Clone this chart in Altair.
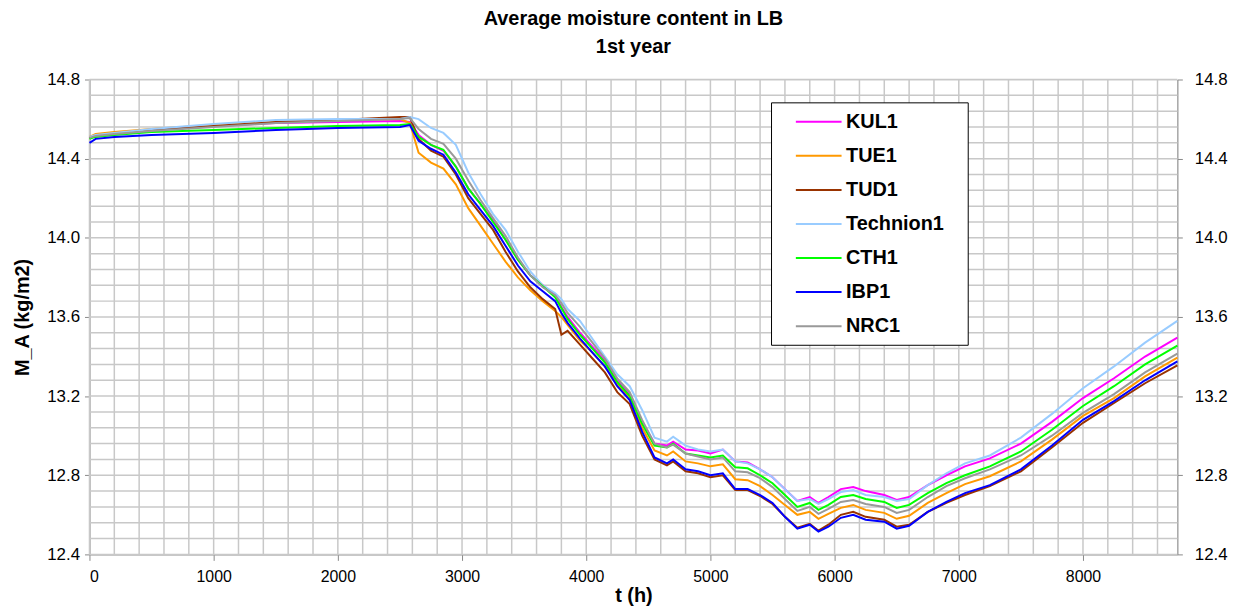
import altair as alt
import pandas as pd

FONT = "Liberation Sans"

t_hours = [0, 50, 200, 500, 1000, 1500, 2000, 2500, 2580, 2650, 2750, 2850, 2950,
           3050, 3150, 3250, 3350, 3450, 3550, 3650, 3750, 3800, 3850, 3950, 4050,
           4150, 4250, 4350, 4450, 4550, 4650, 4700, 4800, 4900, 5000, 5100, 5200,
           5300, 5400, 5500, 5600, 5700, 5800, 5870, 5950, 6050, 6150, 6250, 6400,
           6500, 6600, 6750, 6900, 7050, 7250, 7500, 7750, 8000, 8250, 8500, 8760]

kul1 = [14.505, 14.52, 14.53, 14.545, 14.565, 14.58, 14.585, 14.59, 14.585, 14.52, 14.47, 14.44, 14.36,
        14.25, 14.17, 14.09, 13.99, 13.89, 13.81, 13.76, 13.71, 13.65, 13.60, 13.52, 13.45,
        13.38, 13.28, 13.21, 13.07, 12.96, 12.95, 12.97, 12.93, 12.925, 12.91, 12.93, 12.87,
        12.865, 12.83, 12.79, 12.73, 12.67, 12.69, 12.66, 12.69, 12.73, 12.74, 12.72, 12.70,
        12.675, 12.69, 12.75, 12.80, 12.845, 12.885, 12.96, 13.07, 13.19, 13.29, 13.40, 13.495]

tue1 = [14.51, 14.525, 14.535, 14.55, 14.57, 14.585, 14.595, 14.60, 14.58, 14.43, 14.38, 14.35, 14.27,
        14.15, 14.06, 13.97, 13.88, 13.80, 13.735, 13.68, 13.63, 13.60, 13.56, 13.48, 13.42,
        13.35, 13.26, 13.19, 13.04, 12.925, 12.90, 12.92, 12.87, 12.86, 12.845, 12.855, 12.78,
        12.775, 12.745, 12.70, 12.65, 12.60, 12.615, 12.58, 12.605, 12.635, 12.65, 12.625, 12.61,
        12.58, 12.595, 12.66, 12.71, 12.755, 12.795, 12.87, 12.98, 13.10, 13.19, 13.30, 13.395]

tud1 = [14.505, 14.515, 14.525, 14.545, 14.565, 14.585, 14.595, 14.61, 14.61, 14.50, 14.44, 14.41, 14.32,
        14.20, 14.12, 14.04, 13.93, 13.83, 13.75, 13.69, 13.64, 13.51, 13.53, 13.46, 13.39,
        13.32, 13.22, 13.16, 13.00, 12.88, 12.85, 12.87, 12.82, 12.81, 12.79, 12.80, 12.725,
        12.725, 12.695, 12.655, 12.59, 12.535, 12.555, 12.52, 12.55, 12.60, 12.615, 12.59, 12.575,
        12.54, 12.55, 12.615, 12.66, 12.70, 12.745, 12.82, 12.94, 13.065, 13.165, 13.265, 13.355]

technion1 = [14.51, 14.52, 14.53, 14.55, 14.575, 14.595, 14.60, 14.60, 14.61, 14.60, 14.555, 14.53, 14.47,
             14.33, 14.22, 14.12, 14.04, 13.93, 13.83, 13.76, 13.72, 13.69, 13.64, 13.58, 13.49,
             13.40, 13.31, 13.25, 13.13, 12.99, 12.97, 12.995, 12.95, 12.93, 12.92, 12.93, 12.87,
             12.86, 12.83, 12.79, 12.73, 12.67, 12.68, 12.655, 12.68, 12.715, 12.725, 12.70, 12.69,
             12.67, 12.68, 12.75, 12.81, 12.86, 12.90, 12.99, 13.11, 13.24, 13.35, 13.47, 13.58]

cth1 = [14.50, 14.51, 14.52, 14.535, 14.545, 14.555, 14.565, 14.57, 14.575, 14.51, 14.47, 14.445, 14.36,
        14.25, 14.17, 14.08, 13.99, 13.89, 13.81, 13.755, 13.70, 13.645, 13.59, 13.51, 13.44,
        13.37, 13.27, 13.20, 13.06, 12.95, 12.94, 12.96, 12.91, 12.90, 12.89, 12.90, 12.84,
        12.835, 12.80, 12.76, 12.70, 12.64, 12.66, 12.625, 12.65, 12.69, 12.70, 12.68, 12.665,
        12.635, 12.65, 12.71, 12.76, 12.80, 12.845, 12.92, 13.03, 13.15, 13.25, 13.36, 13.455]

ibp1 = [14.48, 14.50, 14.51, 14.52, 14.53, 14.545, 14.555, 14.56, 14.57, 14.49, 14.45, 14.42, 14.33,
        14.22, 14.14, 14.06, 13.96, 13.86, 13.78, 13.73, 13.68, 13.62, 13.57, 13.49, 13.42,
        13.35, 13.25, 13.18, 13.02, 12.89, 12.86, 12.88, 12.83, 12.82, 12.80, 12.81, 12.73,
        12.73, 12.70, 12.66, 12.59, 12.53, 12.55, 12.515, 12.54, 12.585, 12.60, 12.575, 12.565,
        12.53, 12.545, 12.615, 12.665, 12.71, 12.75, 12.83, 12.95, 13.08, 13.175, 13.28, 13.375]

nrc1 = [14.505, 14.515, 14.525, 14.54, 14.56, 14.58, 14.59, 14.60, 14.605, 14.55, 14.50, 14.475, 14.40,
        14.29, 14.19, 14.10, 14.01, 13.90, 13.81, 13.75, 13.71, 13.67, 13.62, 13.55, 13.47,
        13.39, 13.29, 13.22, 13.08, 12.96, 12.94, 12.955, 12.91, 12.895, 12.88, 12.89, 12.82,
        12.815, 12.785, 12.74, 12.68, 12.62, 12.64, 12.605, 12.63, 12.665, 12.675, 12.655, 12.64,
        12.61, 12.625, 12.69, 12.745, 12.785, 12.83, 12.90, 13.00, 13.115, 13.21, 13.32, 13.415]

series_names = ["KUL1", "TUE1", "TUD1", "Technion1", "CTH1", "IBP1", "NRC1"]
series_values = [kul1, tue1, tud1, technion1, cth1, ibp1, nrc1]
series_colors = ["#ff00ff", "#ff9900", "#993300", "#99ccff", "#00ff00", "#0000ff", "#999999"]

x_tick_values = [0, 1000, 2000, 3000, 4000, 5000, 6000, 7000, 8000]
y_tick_values = [12.4, 12.8, 13.2, 13.6, 14.0, 14.4, 14.8]
x_grid_values = list(range(0, 8761, 200))
y_grid_values = [round(12.4 + 0.08 * i, 2) for i in range(31)]

rows = []
for name, vals in zip(series_names, series_values):
    assert len(vals) == len(t_hours), name
    for t, v in zip(t_hours, vals):
        rows.append({"series": name, "t": t, "m": v})
df = pd.DataFrame(rows)

xscale = alt.Scale(domain=[0, 8760], nice=False, zero=False)
yscale = alt.Scale(domain=[12.4, 14.8], nice=False, zero=False)
grid_color = "#c8c8c8"

xgrid = alt.Chart(pd.DataFrame({"gx": x_grid_values})).mark_rule(
    color=grid_color, strokeWidth=1.5
).encode(x=alt.X("gx:Q", scale=xscale, axis=None))

ygrid = alt.Chart(pd.DataFrame({"gy": y_grid_values})).mark_rule(
    color=grid_color, strokeWidth=1.5
).encode(
    y=alt.Y("gy:Q", scale=yscale,
            axis=alt.Axis(orient="right", values=y_tick_values, format=".1f", title=None,
                          grid=False, labelFontSize=17, tickSize=5, labelPadding=12))
)

lines = alt.Chart(df).mark_line(strokeWidth=2).encode(
    x=alt.X("t:Q", scale=xscale,
            axis=alt.Axis(orient="bottom", values=x_tick_values, format="d", title="t (h)",
                          grid=False, labelFontSize=16, tickSize=6, labelPadding=8,
                          titleFontSize=20, titleFontWeight="bold", titlePadding=1)),
    y=alt.Y("m:Q", scale=yscale,
            axis=alt.Axis(orient="left", values=y_tick_values, format=".1f", title="M_A (kg/m2)",
                          grid=False, labelFontSize=17, tickSize=5, labelPadding=5,
                          titleFontSize=20, titleFontWeight="bold", titlePadding=14)),
    color=alt.Color("series:N",
                    scale=alt.Scale(domain=series_names, range=series_colors),
                    sort=series_names,
                    legend=alt.Legend(orient="none", legendX=686, legendY=23, title=None,
                                      fillColor="white", strokeColor="black", padding=8.5,
                                      symbolType="M-2.3,0H2.3", symbolSize=400,
                                      symbolStrokeWidth=2, symbolOffset=28.5,
                                      labelOffset=16.5, labelFontSize=20, labelFont=FONT,
                                      labelFontWeight="bold", labelColor="black",
                                      rowPadding=13.3, labelLimit=0,
                                      labelExpr="datum.label + '\u2800'")),
)

chart = alt.layer(xgrid, ygrid, lines).resolve_axis(
    x="independent", y="independent"
).properties(
    width=1095,
    height=478,
    title=alt.Title(["Average moisture content in LB", "1st year"], fontSize=20, font=FONT,
                    fontWeight="bold", color="black", lineHeight=28, offset=14, anchor="middle"),
    padding={"left": 82, "top": 70, "right": 57, "bottom": 56},
    autosize=alt.AutoSizeParams(type="none"),
).configure_view(
    stroke="#333333", strokeWidth=1.5
).configure_axis(
    labelFont=FONT, titleFont=FONT, labelColor="black", titleColor="black",
    domainColor="black", tickColor="black", domainWidth=1.5
).configure(background="white")

chart.save("out.html", embed_options={"renderer": "svg", "actions": False})
